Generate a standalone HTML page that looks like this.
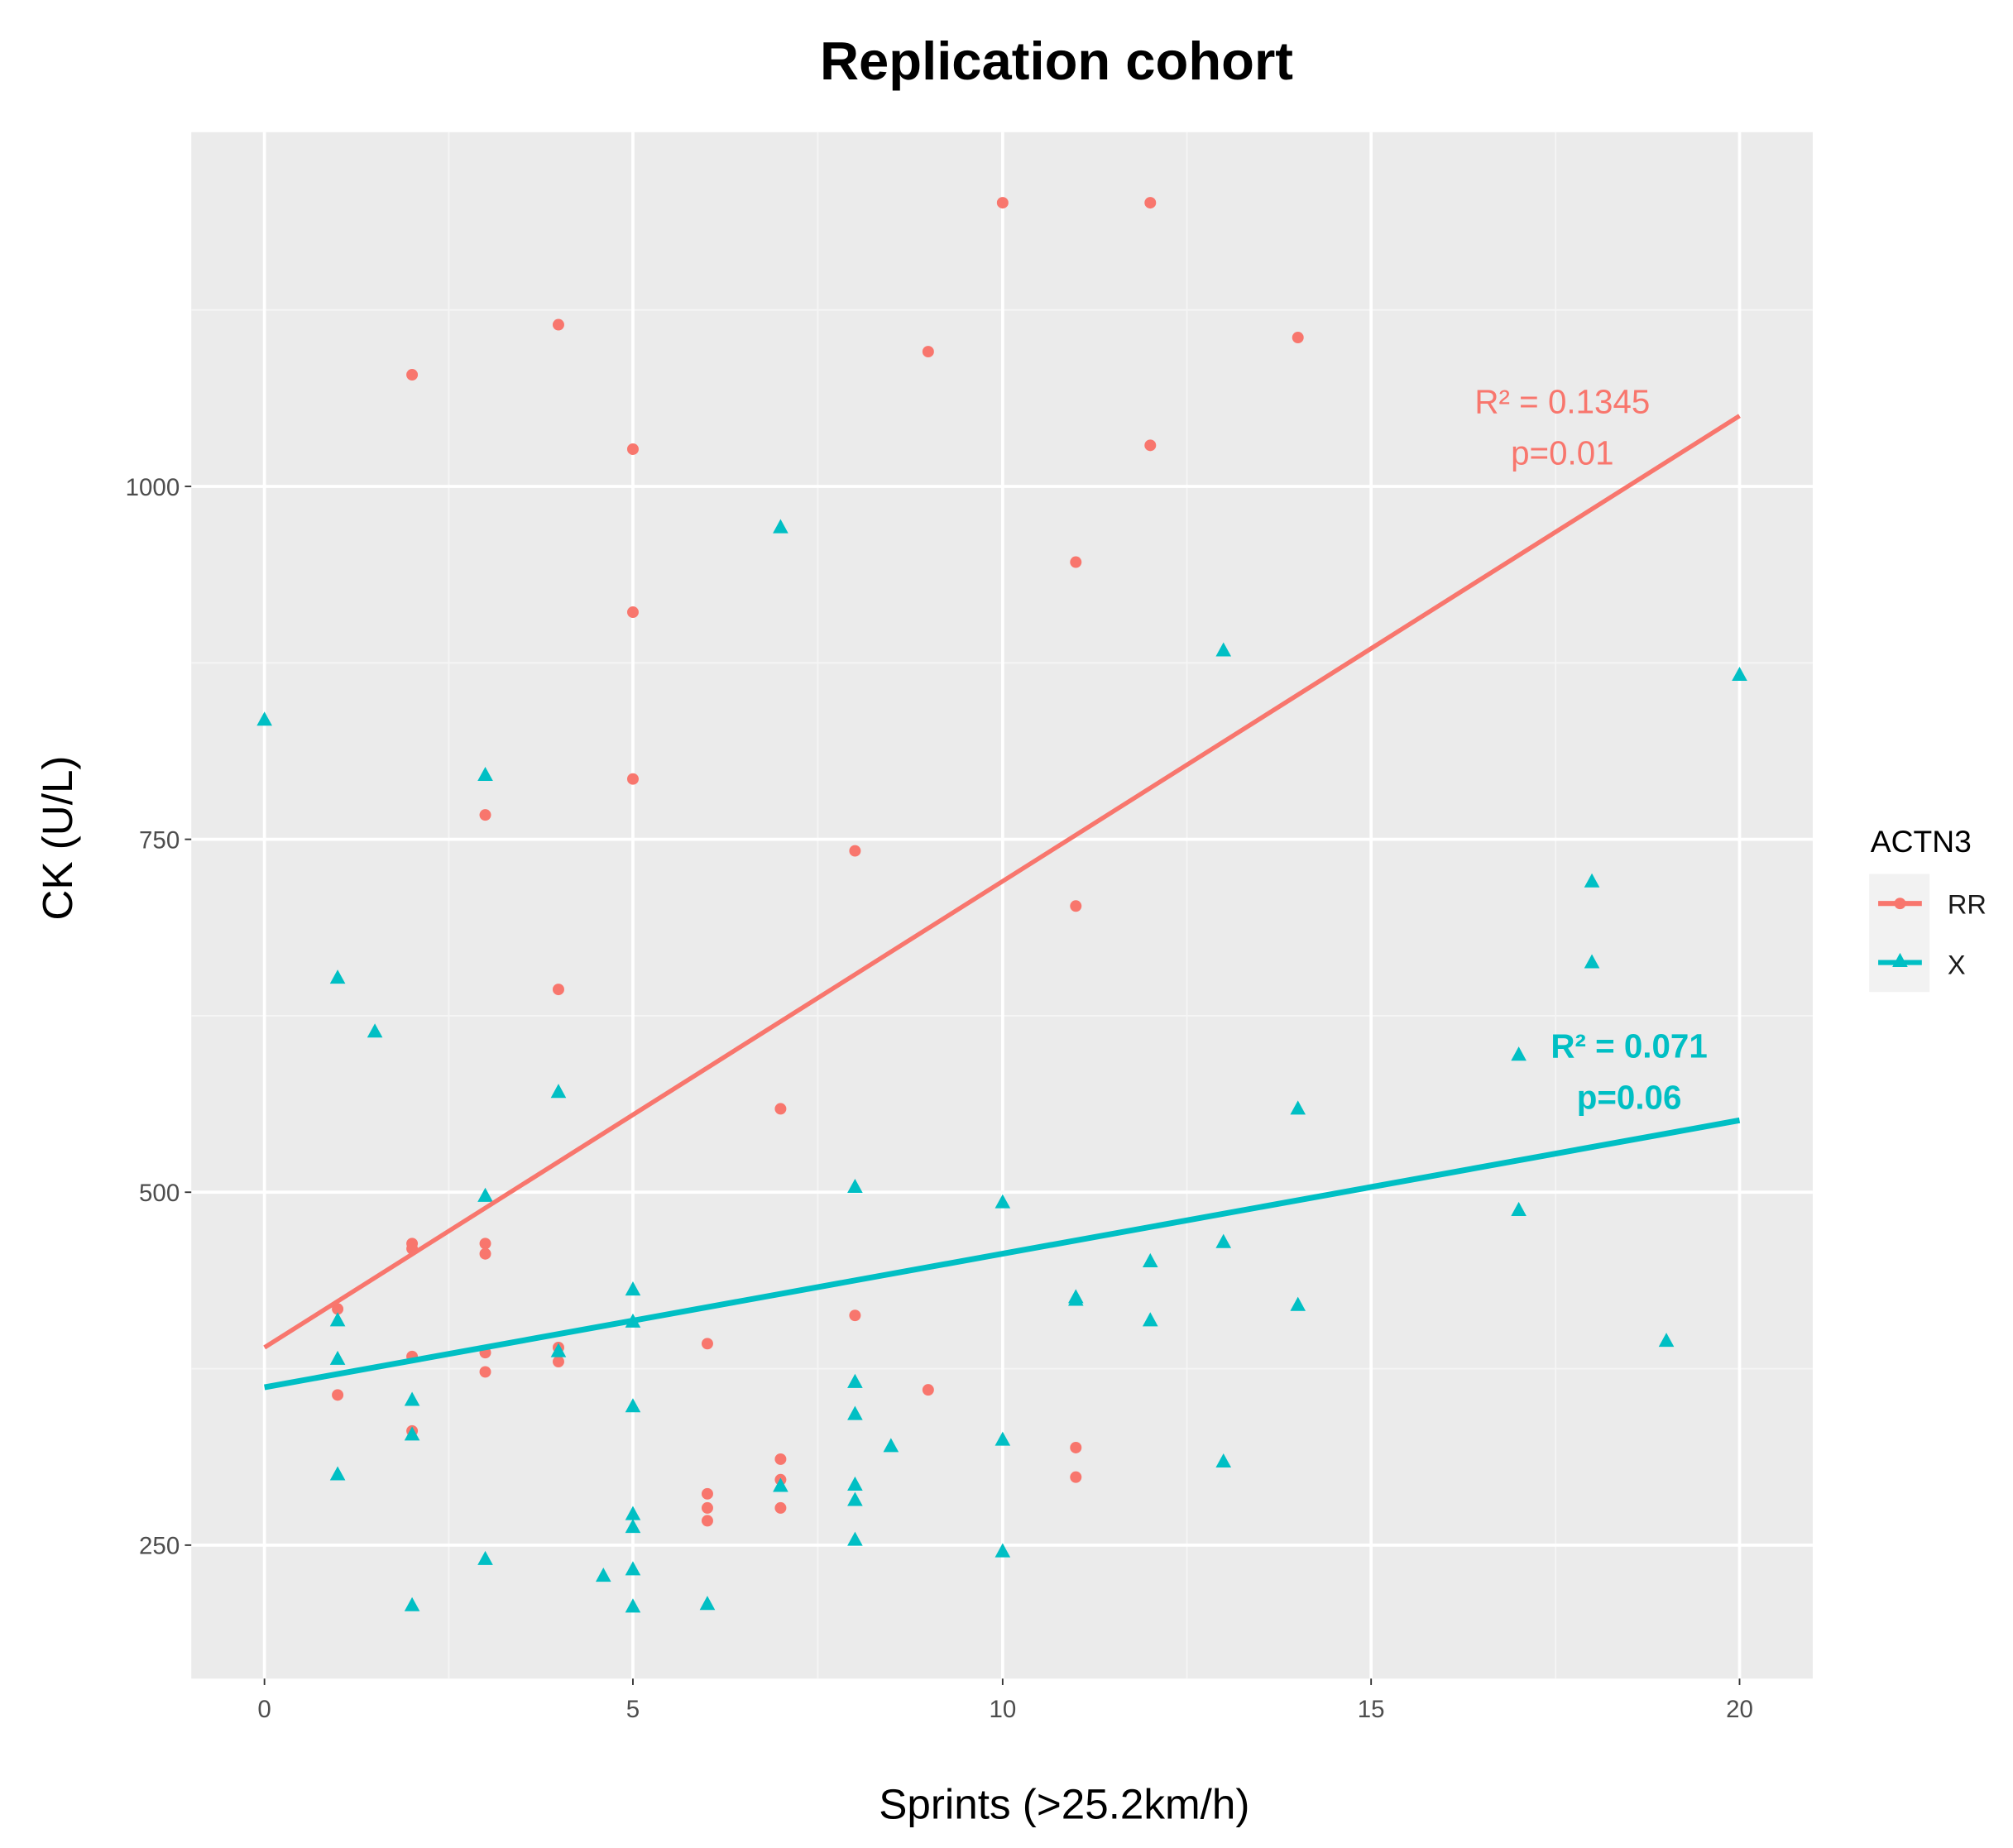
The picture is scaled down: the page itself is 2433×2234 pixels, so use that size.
<!DOCTYPE html>
<html><head><meta charset="utf-8"><style>html,body{margin:0;padding:0;background:#fff}svg{display:block}</style></head>
<body>
<svg width="2433" height="2234" viewBox="0 0 1568 1440" preserveAspectRatio="none" xmlns="http://www.w3.org/2000/svg" font-family="Liberation Sans, sans-serif">
<rect x="0" y="0" width="1568" height="1440" fill="#fff"/>
<rect x="149" y="103" width="1263" height="1205" fill="#ebebeb"/>
<g stroke="#f5f5f5" stroke-width="1.2">
<line x1="149" x2="1412" y1="241.5" y2="241.5"/><line x1="149" x2="1412" y1="516.5" y2="516.5"/><line x1="149" x2="1412" y1="791.5" y2="791.5"/><line x1="149" x2="1412" y1="1066.5" y2="1066.5"/>
<line y1="103" y2="1308" x1="349.6" x2="349.6"/><line y1="103" y2="1308" x1="637" x2="637"/><line y1="103" y2="1308" x1="924.5" x2="924.5"/><line y1="103" y2="1308" x1="1211.7" x2="1211.7"/>
</g>
<g stroke="#fff" stroke-width="2.4">
<line x1="149" x2="1412" y1="379" y2="379"/><line x1="149" x2="1412" y1="654" y2="654"/><line x1="149" x2="1412" y1="929" y2="929"/><line x1="149" x2="1412" y1="1204" y2="1204"/>
<line y1="103" y2="1308" x1="206" x2="206"/><line y1="103" y2="1308" x1="493" x2="493"/><line y1="103" y2="1308" x1="781" x2="781"/><line y1="103" y2="1308" x1="1068" x2="1068"/><line y1="103" y2="1308" x1="1355" x2="1355"/>
</g>
<g fill="#F8766D">
<circle cx="781" cy="158" r="4.5"/><circle cx="896" cy="158" r="4.5"/><circle cx="435" cy="253" r="4.5"/><circle cx="723" cy="274" r="4.5"/><circle cx="1011" cy="263" r="4.5"/><circle cx="321" cy="292" r="4.5"/><circle cx="493" cy="350" r="4.5"/><circle cx="896" cy="347" r="4.5"/><circle cx="838" cy="438" r="4.5"/><circle cx="493" cy="477" r="4.5"/><circle cx="493" cy="607" r="4.5"/><circle cx="378" cy="635" r="4.5"/><circle cx="666" cy="663" r="4.5"/><circle cx="838" cy="706" r="4.5"/><circle cx="435" cy="771" r="4.5"/><circle cx="608" cy="864" r="4.5"/><circle cx="321" cy="969" r="4.5"/><circle cx="321" cy="973" r="4.5"/><circle cx="378" cy="969" r="4.5"/><circle cx="378" cy="977" r="4.5"/><circle cx="263" cy="1020" r="4.5"/><circle cx="321" cy="1057" r="4.5"/><circle cx="378" cy="1054" r="4.5"/><circle cx="378" cy="1069" r="4.5"/><circle cx="435" cy="1050" r="4.5"/><circle cx="435" cy="1061" r="4.5"/><circle cx="263" cy="1087" r="4.5"/><circle cx="321" cy="1115" r="4.5"/><circle cx="551" cy="1047" r="4.5"/><circle cx="666" cy="1025" r="4.5"/><circle cx="723" cy="1083" r="4.5"/><circle cx="838" cy="1128" r="4.5"/><circle cx="838" cy="1151" r="4.5"/><circle cx="608" cy="1137" r="4.5"/><circle cx="608" cy="1153" r="4.5"/><circle cx="608" cy="1175" r="4.5"/><circle cx="551" cy="1164" r="4.5"/><circle cx="551" cy="1175" r="4.5"/><circle cx="551" cy="1185" r="4.5"/>
</g>
<defs><path id="t" d="M0,-6.5 L6,4.5 L-6,4.5 Z" fill="#00BFC4"/></defs>
<g>
<use href="#t" x="206" y="561"/><use href="#t" x="608" y="411"/><use href="#t" x="953" y="507"/><use href="#t" x="1355" y="526"/><use href="#t" x="378" y="604"/><use href="#t" x="263" y="762"/><use href="#t" x="292" y="804"/><use href="#t" x="435" y="851"/><use href="#t" x="1240" y="687"/><use href="#t" x="1240" y="750"/><use href="#t" x="1183" y="822"/><use href="#t" x="1011" y="864"/><use href="#t" x="666" y="925"/><use href="#t" x="781" y="937"/><use href="#t" x="378" y="932"/><use href="#t" x="1183" y="943"/><use href="#t" x="953" y="968"/><use href="#t" x="896" y="983"/><use href="#t" x="838" y="1011"/><use href="#t" x="838" y="1013"/><use href="#t" x="1011" y="1017"/><use href="#t" x="896" y="1029"/><use href="#t" x="493" y="1005"/><use href="#t" x="493" y="1030"/><use href="#t" x="263" y="1029"/><use href="#t" x="263" y="1059"/><use href="#t" x="435" y="1053"/><use href="#t" x="1298" y="1045"/><use href="#t" x="666" y="1077"/><use href="#t" x="321" y="1091"/><use href="#t" x="321" y="1118"/><use href="#t" x="493" y="1096"/><use href="#t" x="666" y="1102"/><use href="#t" x="781" y="1122"/><use href="#t" x="694" y="1127"/><use href="#t" x="953" y="1139"/><use href="#t" x="263" y="1149"/><use href="#t" x="666" y="1157"/><use href="#t" x="608" y="1158"/><use href="#t" x="666" y="1169"/><use href="#t" x="493" y="1180"/><use href="#t" x="493" y="1190"/><use href="#t" x="666" y="1200"/><use href="#t" x="781" y="1209"/><use href="#t" x="378" y="1215"/><use href="#t" x="493" y="1223"/><use href="#t" x="470" y="1228"/><use href="#t" x="321" y="1251"/><use href="#t" x="493" y="1252"/><use href="#t" x="551" y="1250"/>
</g>
<line x1="206" y1="1050" x2="1355" y2="324" stroke="#F8766D" stroke-width="3.5"/>
<line x1="206" y1="1081" x2="1355" y2="873" stroke="#00BFC4" stroke-width="4.5"/>
<g font-size="26" text-anchor="middle">
<text x="1217" y="322" fill="#F8766D">R² = 0.1345</text>
<text x="1217" y="362" fill="#F8766D">p=0.01</text>
<text x="1269" y="824" fill="#00BFC4" font-weight="bold">R² = 0.071</text>
<text x="1269" y="864" fill="#00BFC4" font-weight="bold">p=0.06</text>
</g>
<g font-size="19" fill="#4d4d4d" text-anchor="end">
<text x="140" y="386">1000</text><text x="140" y="661">750</text><text x="140" y="936">500</text><text x="140" y="1211">250</text>
</g>
<g font-size="19" fill="#4d4d4d" text-anchor="middle">
<text x="206" y="1338">0</text><text x="493" y="1338">5</text><text x="781" y="1338">10</text><text x="1068" y="1338">15</text><text x="1355" y="1338">20</text>
</g>
<g stroke="#333" stroke-width="1.2">
<line x1="144" x2="149" y1="379" y2="379"/><line x1="144" x2="149" y1="654" y2="654"/><line x1="144" x2="149" y1="929" y2="929"/><line x1="144" x2="149" y1="1204" y2="1204"/>
<line y1="1308" y2="1313" x1="206" x2="206"/><line y1="1308" y2="1313" x1="493" x2="493"/><line y1="1308" y2="1313" x1="781" x2="781"/><line y1="1308" y2="1313" x1="1068" x2="1068"/><line y1="1308" y2="1313" x1="1355" x2="1355"/>
</g>
<text x="823" y="62" font-size="42" font-weight="bold" text-anchor="middle" fill="#000">Replication cohort</text>
<text x="829" y="1417" font-size="33" text-anchor="middle" fill="#000">Sprints (&gt;25.2km/h)</text>
<text transform="translate(56,653) rotate(-90)" font-size="33" text-anchor="middle" fill="#000">CK (U/L)</text>
<text x="1457" y="664" font-size="24" fill="#000">ACTN3</text>
<rect x="1456" y="681" width="47" height="92" fill="#f2f2f2"/>
<line x1="1463" x2="1497" y1="704" y2="704" stroke="#F8766D" stroke-width="4"/>
<circle cx="1480" cy="704" r="4.5" fill="#F8766D"/>
<line x1="1463" x2="1497" y1="750" y2="750" stroke="#00BFC4" stroke-width="4"/>
<use href="#t" x="1480" y="749"/>
<text x="1517" y="712" font-size="21" fill="#1a1a1a">RR</text>
<text x="1517" y="759" font-size="21" fill="#1a1a1a">X</text>
</svg>
</body></html>
